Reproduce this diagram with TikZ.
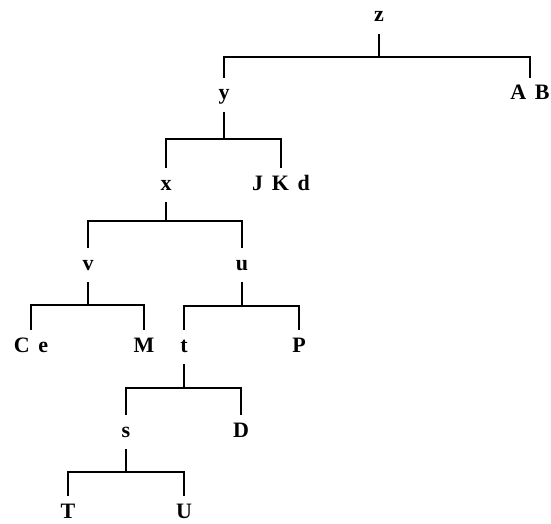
\documentclass[tikz,border=0pt]{standalone}
\usepackage{fontspec}
\setmainfont{Liberation Serif}
\usetikzlibrary{positioning,calc}
\newcommand{\lblgap}{\hspace{0.4em}}

\begin{document}
\begin{tikzpicture}[x=1pt,y=-1pt,
        lbl/.style={anchor=base,inner xsep=0pt,inner ysep=6pt,
                    text height=16pt,text depth=6pt,
                    font=\fontsize{22}{26}\selectfont\bfseries},
        branch/.style={line width=1.4pt,color=black}
    ]
        \useasboundingbox[fill=white] (0,0) rectangle (551,524);

        % Nodes
        \node[lbl] (z) at (379,22) {z};
        \node[lbl] (y) at (224,100) {y};
        \node[lbl] (ab) at (530,100) {A\lblgap B};
        \node[lbl] (x) at (166,190) {x};
        \node[lbl] (jkd) at (281,190) {J\lblgap K\lblgap d};
        \node[lbl] (v) at (88,270) {v};
        \node[lbl] (u) at (242,270) {u};
        \node[lbl] (ce) at (31,352) {C\lblgap e};
        \node[lbl] (m) at (144,352) {M};
        \node[lbl] (t) at (184,352) {t};
        \node[lbl] (p) at (299,352) {P};
        \node[lbl] (s) at (126,437) {s};
        \node[lbl] (d) at (241,437) {D};
        \node[lbl] (tt) at (68,518) {T};
        \node[lbl] (uu) at (184,518) {U};

        % Bars
        \coordinate (zbar) at (379,57);
        \coordinate (ybar) at (224,139);
        \coordinate (xbar) at (166,221);
        \coordinate (vbar) at (88,305);
        \coordinate (ubar) at (242,306);
        \coordinate (tbar) at (184,388);
        \coordinate (sbar) at (126,472);

        % Branches
        \draw[branch] (z) -- (zbar);
        \draw[branch] (y) |- (zbar) -| (ab);
        \draw[branch] (y) -- (ybar);
        \draw[branch] (x) |- (ybar) -| (jkd);
        \draw[branch] (x) -- (xbar);
        \draw[branch] (v) |- (xbar) -| (u);
        \draw[branch] (v) -- (vbar);
        \draw[branch] (ce) |- (vbar) -| (m);
        \draw[branch] (u) -- (ubar);
        \draw[branch] (t) |- (ubar) -| (p);
        \draw[branch] (t) -- (tbar);
        \draw[branch] (s) |- (tbar) -| (d);
        \draw[branch] (s) -- (sbar);
        \draw[branch] (tt) |- (sbar) -| (uu);
    \end{tikzpicture}
\end{document}
